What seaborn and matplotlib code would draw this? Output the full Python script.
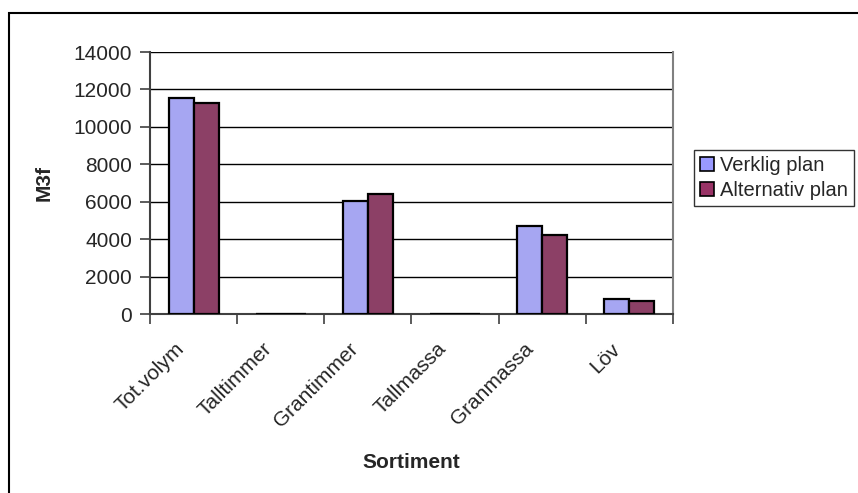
import matplotlib
matplotlib.use("Agg")
import matplotlib.pyplot as plt
import matplotlib.transforms as mtransforms
import seaborn as sns
import pandas as pd
import numpy as np
from matplotlib.patches import Rectangle

categories = ["Tot.volym", "Talltimmer", "Grantimmer", "Tallmassa", "Granmassa", "Löv"]
verklig = [11550, 0, 6050, 0, 4700, 800]
alternativ = [11300, 0, 6400, 0, 4200, 700]
series = ["Verklig plan", "Alternativ plan"]
colors = ["#9999FF", "#993366"]

df = pd.DataFrame({
    "Sortiment": categories * 2,
    "M3f": verklig + alternativ,
    "Plan": [series[0]] * len(categories) + [series[1]] * len(categories),
})

sns.set_theme(style="white")
plt.rcParams["font.family"] = ["Liberation Sans", "DejaVu Sans"]

W, H = 858, 493
fig = plt.figure(figsize=(W / 100, H / 100), dpi=100)
ax = fig.add_axes([150 / W, 1 - 314 / H, (673 - 150) / W, (314 - 52) / H])

sns.barplot(data=df, x="Sortiment", y="M3f", hue="Plan", palette=colors,
            width=0.575, edgecolor="black", linewidth=1.6, ax=ax,
            legend=False, zorder=3)

ax.set_ylim(0, 14000)
ax.set_xlim(-0.5, len(categories) - 0.5)
ax.set_yticks(np.arange(0, 14001, 2000))
ax.yaxis.grid(True, color="black", linewidth=1.0, zorder=0)
ax.set_axisbelow(True)

ax.spines["top"].set_visible(False)
ax.spines["right"].set_color("#808080")
ax.spines["right"].set_linewidth(1.5)
ax.spines["left"].set_color("#404040")
ax.spines["left"].set_linewidth(1.5)
ax.spines["bottom"].set_color("#404040")
ax.spines["bottom"].set_linewidth(1.5)

ax.tick_params(axis="y", which="major", direction="out", length=7, width=1.2,
               color="#404040", labelsize=15, pad=6, left=True)
ax.set_xticks(range(len(categories)))
ax.set_xticklabels(categories, rotation=45, ha="right", rotation_mode="anchor",
                   fontsize=15)
ax.tick_params(axis="x", which="major", length=0, pad=8, bottom=True)
ax.set_xticks(np.arange(-0.5, len(categories), 1.0), minor=True)
ax.tick_params(axis="x", which="minor", direction="out", length=7, width=1.2,
               color="#404040", bottom=True)

# nudge the slanted category names down and to the left
shift = mtransforms.ScaledTranslation(-19 / 100, -14 / 100, fig.dpi_scale_trans)
for lbl in ax.get_xticklabels():
    lbl.set_transform(lbl.get_transform() + shift)

ax.set_xlabel("Sortiment", fontsize=15, fontweight="bold", labelpad=16)
ax.set_ylabel("M3f", fontsize=15, fontweight="bold", labelpad=14)

handles = [Rectangle((0, 0), 1, 1, facecolor=c, edgecolor="black", linewidth=1.2)
           for c in colors]
leg = fig.legend(handles, series, loc="upper left",
                 bbox_to_anchor=(694 / W, 1 - 150 / H), fontsize=14.5,
                 frameon=True, fancybox=False, edgecolor="black",
                 handlelength=0.7, handleheight=0.7, handletextpad=0.3,
                 borderpad=0.3, labelspacing=0.3, borderaxespad=0)
leg.get_frame().set_linewidth(1.0)

# outer chart border
fig.patches.append(Rectangle((9 / W, -0.1), 1.2, 1 - 13 / H + 0.1,
                             transform=fig.transFigure, fill=False,
                             edgecolor="black", linewidth=1.5, zorder=10))

fig.savefig("out.png", dpi=100, facecolor="white")
